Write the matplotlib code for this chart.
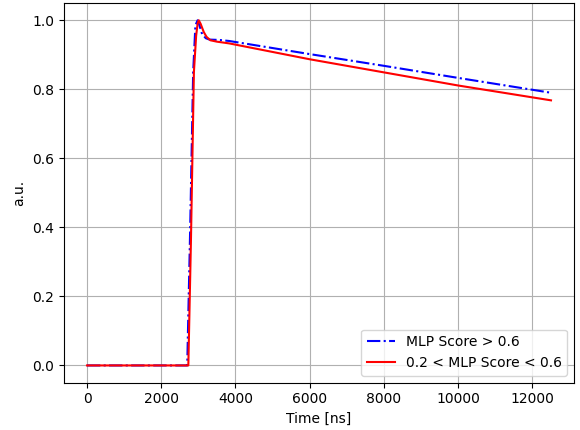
import matplotlib

matplotlib.use("Agg")

import matplotlib.pyplot as plt


# values (time in ns, amplitude normalised)
TIME_HIGH = [0, 2700, 2780, 2860, 2920, 2980, 3030, 3100, 3200, 3300,
             3560, 3830, 6000, 8000, 10000, 12500]
AMP_HIGH = [0.0, 0.0, 0.40, 0.85, 0.985, 1.0, 0.985, 0.96, 0.948, 0.944,
            0.943, 0.940, 0.902, 0.868, 0.833, 0.790]

TIME_MID = [0, 2730, 2800, 2880, 2940, 2980, 3010, 3060, 3145, 3220,
            3325, 3500, 3830, 6000, 8000, 10000, 12500]
AMP_MID = [0.0, 0.0, 0.36, 0.85, 0.955, 0.99, 1.0, 0.99, 0.966, 0.952,
           0.942, 0.938, 0.933, 0.887, 0.849, 0.811, 0.768]

LABEL_HIGH = "MLP Score > 0.6"
LABEL_MID = "0.2 < MLP Score < 0.6"


def main():
    fig, ax = plt.subplots(figsize=(5.8, 4.3), dpi=100)
    fig.subplots_adjust(left=0.110, right=0.990, top=0.993, bottom=0.11)

    ax.plot(TIME_HIGH, AMP_HIGH, linestyle="-.", color="blue", label=LABEL_HIGH)
    ax.plot(TIME_MID, AMP_MID, linestyle="-", color="red", label=LABEL_MID)

    ax.set_xlabel("Time [ns]")
    ax.set_ylabel("a.u.")
    ax.grid(True)
    ax.legend(loc="lower right")

    fig.savefig("out.png", dpi=100)
    plt.close(fig)


if __name__ == "__main__":
    main()
